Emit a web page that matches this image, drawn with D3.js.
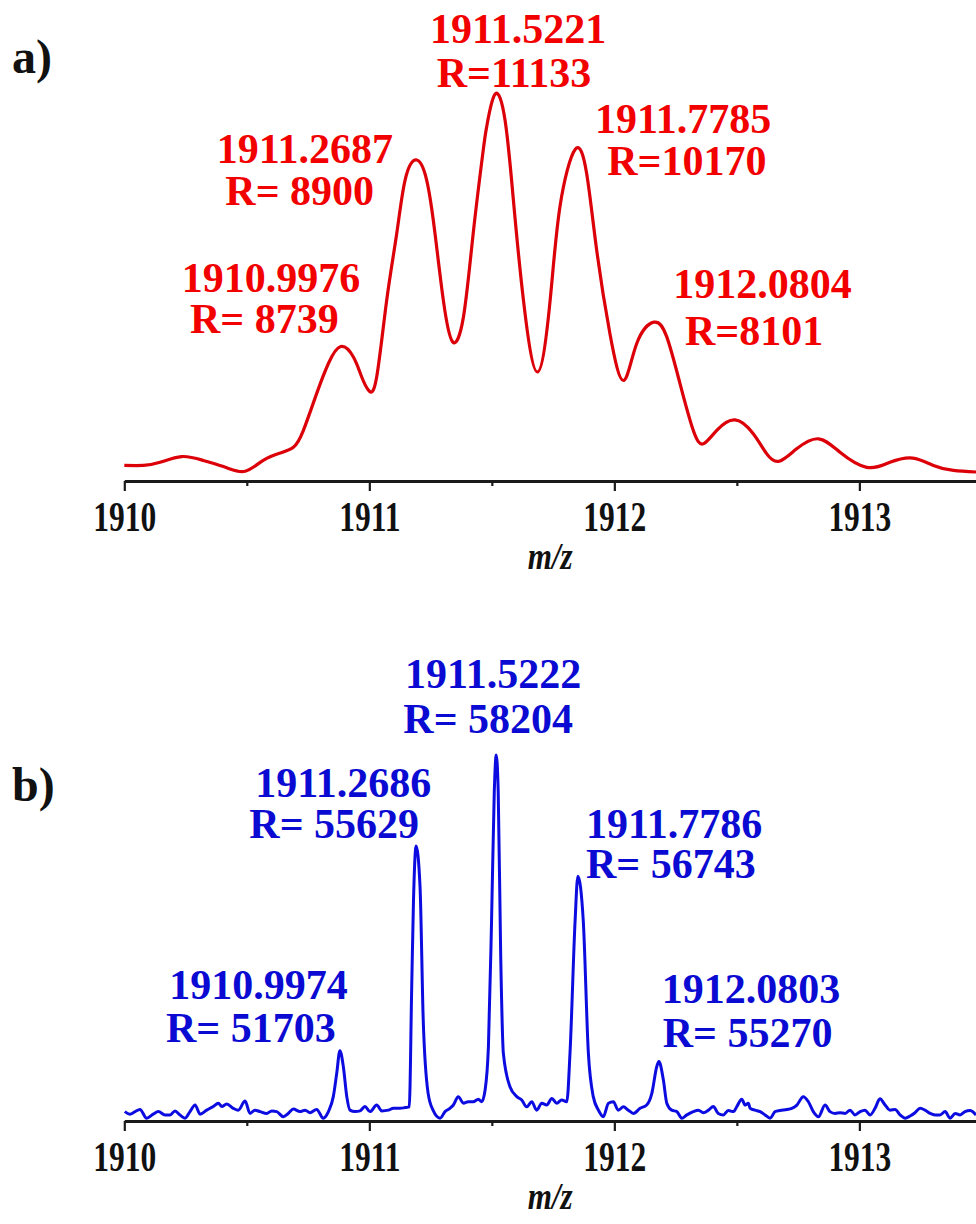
<!DOCTYPE html>
<html>
<head>
<meta charset="utf-8">
<script src="https://cdn.jsdelivr.net/npm/d3@7"></script>
<style>
  html, body { margin: 0; padding: 0; background: #fff; }
</style>
</head>
<body>
<div id="chart"></div>
<script>
// ---- data (m/z, relative intensity %) ----
const redMz = [1910.000, 1910.078, 1910.146, 1910.234, 1910.322, 1910.418, 1910.493, 1910.567, 1910.636, 1910.690,
  1910.731, 1910.785, 1910.833, 1910.883, 1910.935, 1910.969, 1910.999, 1911.030, 1911.071, 1911.112,
  1911.146, 1911.191, 1911.234, 1911.268, 1911.302, 1911.340, 1911.384, 1911.424, 1911.465, 1911.479,
  1911.513, 1911.554, 1911.588, 1911.629, 1911.686, 1911.738, 1911.778, 1911.840, 1911.887, 1911.928,
  1911.982, 1912.037, 1912.091, 1912.162, 1912.214, 1912.268, 1912.322, 1912.363, 1912.418, 1912.493,
  1912.567, 1912.622, 1912.673, 1912.744, 1912.833, 1912.921, 1913.030, 1913.125, 1913.218, 1913.302,
  1913.384, 1913.476];
const redInt = [3.9, 3.9, 4.7, 6.2, 5.2, 3.3, 2.4, 5.2, 7.1, 8.6,
  13.0, 22.5, 30.3, 34.7, 32.0, 26.8, 23.2, 26.8, 46.7, 64.0,
  77.8, 83.0, 77.8, 64.0, 46.7, 35.9, 42.3, 64.0, 85.6, 91.6,
  100, 93.3, 72.6, 46.7, 28.1, 46.7, 70.9, 85.7, 79.5, 59.6,
  38.0, 25.9, 35.4, 41.0, 37.2, 25.1, 13.0, 9.5, 13.0, 15.7,
  12.1, 6.9, 5.0, 8.2, 10.8, 7.3, 3.4, 4.7, 5.8, 3.9,
  2.6, 2.2];

const blueMz = [1910.002, 1910.023, 1910.044, 1910.064, 1910.091, 1910.118, 1910.139, 1910.166, 1910.187, 1910.207,
  1910.227, 1910.248, 1910.268, 1910.289, 1910.309, 1910.336, 1910.363, 1910.384, 1910.398, 1910.418,
  1910.445, 1910.465, 1910.493, 1910.513, 1910.533, 1910.554, 1910.581, 1910.602, 1910.622, 1910.649,
  1910.669, 1910.690, 1910.717, 1910.738, 1910.758, 1910.785, 1910.812, 1910.833, 1910.853, 1910.867,
  1910.880, 1910.894, 1910.908, 1910.921, 1910.942, 1910.962, 1910.982, 1911.003, 1911.030, 1911.051,
  1911.078, 1911.098, 1911.125, 1911.146, 1911.163, 1911.173, 1911.180, 1911.191, 1911.207, 1911.220,
  1911.240, 1911.260, 1911.289, 1911.309, 1911.329, 1911.343, 1911.363, 1911.384, 1911.404, 1911.424,
  1911.445, 1911.459, 1911.472, 1911.486, 1911.499, 1911.510, 1911.518, 1911.526, 1911.536, 1911.547,
  1911.574, 1911.602, 1911.622, 1911.642, 1911.663, 1911.683, 1911.704, 1911.724, 1911.745, 1911.765,
  1911.785, 1911.806, 1911.819, 1911.840, 1911.851, 1911.873, 1911.894, 1911.914, 1911.935, 1911.955,
  1911.976, 1911.996, 1912.016, 1912.037, 1912.057, 1912.078, 1912.105, 1912.132, 1912.153, 1912.173,
  1912.182, 1912.200, 1912.214, 1912.234, 1912.255, 1912.275, 1912.296, 1912.322, 1912.343, 1912.363,
  1912.384, 1912.404, 1912.424, 1912.445, 1912.465, 1912.486, 1912.500, 1912.520, 1912.534, 1912.547,
  1912.554, 1912.574, 1912.595, 1912.615, 1912.636, 1912.656, 1912.676, 1912.704, 1912.724, 1912.745,
  1912.771, 1912.792, 1912.812, 1912.833, 1912.860, 1912.880, 1912.901, 1912.921, 1912.942, 1912.962,
  1912.982, 1913.003, 1913.023, 1913.044, 1913.064, 1913.084, 1913.105, 1913.125, 1913.146, 1913.166,
  1913.187, 1913.207, 1913.227, 1913.248, 1913.268, 1913.289, 1913.309, 1913.329, 1913.350, 1913.370,
  1913.391, 1913.411, 1913.431, 1913.452, 1913.476];
const blueInt = [2.3, 1.6, 2.3, 2.9, 0.5, 1.6, 2.3, 1.4, 1.4, 2.5,
  1.4, 0.5, 2.3, 4.1, 1.6, 2.7, 3.7, 4.6, 3.7, 4.4,
  3.2, 2.7, 5.2, 1.8, 2.7, 2.3, 1.8, 2.5, 2.3, 0.9,
  1.8, 3.0, 2.3, 2.7, 2.0, 2.9, 0.5, 2.3, 6.4, 12.8,
  19.0, 14.6, 6.4, 2.7, 2.3, 2.5, 3.7, 2.3, 4.1, 2.5,
  2.7, 3.2, 3.2, 3.4, 3.6, 36.5, 59.4, 75.1, 63.9, 27.4,
  7.3, 2.7, 0.5, 2.3, 3.2, 4.1, 6.4, 4.6, 5.0, 5.0,
  5.7, 5.0, 8.0, 20.0, 55.0, 90.0, 100, 90.0, 45.7, 18.3,
  9.1, 6.4, 5.5, 3.6, 5.0, 2.7, 4.6, 4.1, 5.9, 4.6,
  5.5, 5.0, 18.3, 54.8, 66.8, 54.8, 18.3, 6.4, 2.7, 0.9,
  4.6, 5.0, 2.7, 3.6, 2.7, 1.8, 3.2, 4.1, 7.3, 14.6,
  16.0, 11.0, 4.6, 2.7, 2.3, 0.5, 1.4, 2.3, 2.7, 2.0,
  2.7, 3.7, 1.8, 1.4, 2.6, 2.3, 3.7, 5.7, 4.1, 4.6,
  3.2, 2.7, 2.3, 1.4, 0.5, 2.3, 2.6, 2.9, 3.2, 4.1,
  6.4, 5.0, 2.3, 0.9, 4.1, 2.3, 1.8, 2.0, 1.8, 2.7,
  1.4, 2.3, 2.7, 1.4, 3.2, 5.8, 4.1, 2.7, 2.9, 1.4,
  0.5, 1.1, 2.0, 3.2, 2.7, 1.8, 1.4, 1.4, 2.3, 0.5,
  1.8, 1.4, 2.3, 2.6, 1.4];

const majorTicks = [1910, 1911, 1912, 1913];
const minorTicks = [1910.5, 1911.5, 1912.5];

// peak annotations
const redPeakMz = [1910.9976, 1911.2687, 1911.5221, 1911.7785, 1912.0804];
const redPeakText = ["1910.9976", "1911.2687", "1911.5221", "1911.7785", "1912.0804"];
const redResText = ["R= 8739", "R= 8900", "R=11133", "R=10170", "R=8101"];

const bluePeakMz = [1910.9974, 1911.2686, 1911.5222, 1911.7786, 1912.0803];
const bluePeakText = ["1910.9974", "1911.2686", "1911.5222", "1911.7786", "1912.0803"];
const blueResText = ["R= 51703", "R= 55629", "R= 58204", "R= 56743", "R= 55270"];

// ---- layout ----
const width = 976, height = 1224;
const serif = "'Liberation Serif', 'Times New Roman', Times, serif";

// label placement: [dx line1, baseline line1, dx line2, baseline line2]
const redLabelPos = [[-187, 291.7, -178.7, 333.3], [-218.4, 163.3, -209.8, 205], [-67.2, 43.3, -60.5, 87.3],
  [34.9, 133.3, 47.2, 175], [39.3, 298.3, 51, 345]];
const blueLabelPos = [[-199.4, 999.3, -202.7, 1041.7], [-180, 796.7, -185.8, 838.3], [-92.2, 688.3, -93.9, 732.7],
  [25.9, 838.3, 25.9, 878.3], [27.7, 1003.3, 28.7, 1046.7]];

const svg = d3.select("#chart").append("svg")
  .attr("width", width)
  .attr("height", height)
  .style("display", "block");

svg.append("rect").attr("width", width).attr("height", height).attr("fill", "#fff");

const x = d3.scaleLinear().domain([1910, 1913.476]).range([124.3, 976]);

function drawPanel(p) {
  const y = d3.scaleLinear().domain([0, 100]).range([p.base, p.top]);
  const idx = d3.range(p.mz.length);

  const line = d3.line()
    .x(i => x(p.mz[i]))
    .y(i => y(p.int[i]))
    .curve(p.curve);

  svg.append("path")
    .datum(idx)
    .attr("d", line)
    .attr("fill", "none")
    .attr("stroke", p.lineColor)
    .attr("stroke-width", p.lineWidth)
    .attr("stroke-linejoin", "round");

  // axis
  const gx = svg.append("g").attr("transform", `translate(0,${p.axisY})`);
  gx.call(d3.axisBottom(x).tickValues(majorTicks).tickSizeInner(10).tickSizeOuter(0).tickFormat(d3.format("d")));
  gx.select(".domain").attr("stroke", "#1a1a1a").attr("stroke-width", 2.8);
  gx.selectAll(".tick line").attr("stroke", "#1a1a1a").attr("stroke-width", 2.2);
  gx.selectAll(".tick text")
    .attr("y", 50)
    .attr("dy", 0)
    .attr("transform", "scale(0.75,1)")
    .attr("fill", "#111")
    .style("font-family", serif)
    .style("font-weight", "bold")
    .style("font-size", "42px");

  const gm = svg.append("g").attr("transform", `translate(0,${p.axisY})`);
  gm.call(d3.axisBottom(x).tickValues(minorTicks).tickSize(5).tickFormat(""));
  gm.select(".domain").remove();
  gm.selectAll(".tick line").attr("stroke", "#1a1a1a").attr("stroke-width", 2.2);

  // m/z title
  const cx = (x.range()[0] + x.range()[1]) / 2;
  svg.append("text")
    .attr("transform", `translate(${cx},${p.axisY + 88}) scale(0.82,1)`)
    .attr("text-anchor", "middle")
    .attr("fill", "#111")
    .style("font-family", serif)
    .style("font-weight", "bold")
    .style("font-style", "italic")
    .style("font-size", "38px")
    .text("m/z");

  // panel letter
  svg.append("text")
    .attr("x", 12)
    .attr("y", p.letterY)
    .attr("fill", "#111")
    .style("font-family", serif)
    .style("font-weight", "bold")
    .style("font-size", "48px")
    .text(p.letter);

  // peak labels
  p.peakMz.forEach((m, i) => {
    const pos = p.labelPos[i];
    const g = svg.append("g")
      .attr("fill", p.textColor)
      .style("font-family", serif)
      .style("font-weight", "bold")
      .style("font-size", "42px");
    g.append("text").attr("x", x(m) + pos[0]).attr("y", pos[1]).text(p.peakText[i]);
    g.append("text").attr("x", x(m) + pos[2]).attr("y", pos[3]).style("white-space", "pre").text(p.resText[i]);
  });
}

drawPanel({
  mz: redMz, int: redInt, base: 480.5, top: 94.3, axisY: 481,
  curve: d3.curveNatural, lineColor: "#dc0008", lineWidth: 3.2,
  textColor: "#f20000", letter: "a)", letterY: 73,
  peakMz: redPeakMz, peakText: redPeakText, resText: redResText, labelPos: redLabelPos
});

drawPanel({
  mz: blueMz, int: blueInt, base: 1120, top: 755, axisY: 1121,
  curve: d3.curveMonotoneX, lineColor: "#0c0ce0", lineWidth: 3,
  textColor: "#0a0ad2", letter: "b)", letterY: 801,
  peakMz: bluePeakMz, peakText: bluePeakText, resText: blueResText, labelPos: blueLabelPos
});
</script>
</body>
</html>
